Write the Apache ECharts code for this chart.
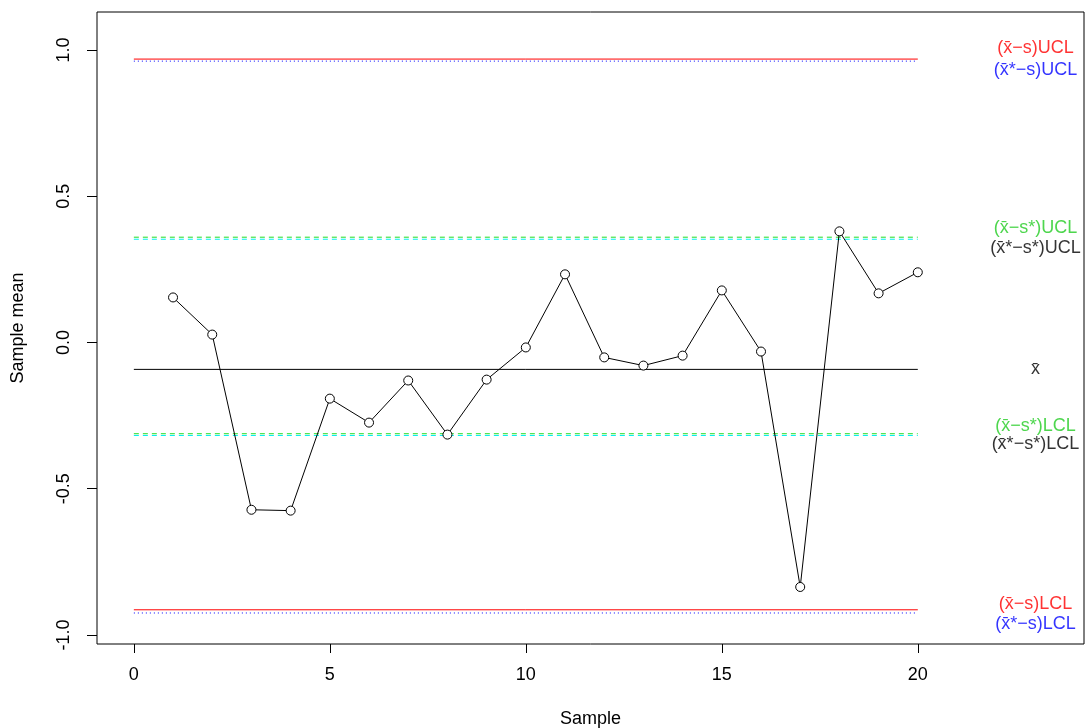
<!DOCTYPE html>
<html>
  <head>
    <meta charset="utf-8" />
    <title></title>
    <style type="text/css">
      html,
      body {
        margin: 0;
        width: 100%;
        height: 100%;
        background: #fff;
      }
      #main {
        width: 1085px;
        height: 728px;
      }
    </style>
  </head>
  <body>
    <div id="main"></div>
    <script src="https://cdn.jsdelivr.net/npm/echarts@6/dist/echarts.min.js"></script>
    <script type="text/javascript">
      // 样本均值
      var samples = [1, 2, 3, 4, 5, 6, 7, 8, 9, 10, 11, 12, 13, 14, 15, 16, 17, 18, 19, 20];
      var means = [0.154, 0.027, -0.572, -0.575, -0.192, -0.274, -0.130, -0.315, -0.127, -0.017,
        0.233, -0.051, -0.079, -0.045, 0.178, -0.031, -0.836, 0.380, 0.168, 0.240];

      // 控制限
      var centerLine = -0.092;
      var limitNames = ["(x\u0304\u2212s)UCL", "(x\u0304*\u2212s)UCL", "(x\u0304\u2212s*)UCL", "(x\u0304*\u2212s*)UCL",
        "(x\u0304\u2212s*)LCL", "(x\u0304*\u2212s*)LCL", "(x\u0304\u2212s)LCL", "(x\u0304*\u2212s)LCL"];
      var limitValues = [0.969, 0.962, 0.360, 0.353, -0.312, -0.318, -0.914, -0.925];

      var xTicks = [0, 5, 10, 15, 20];
      var yTicks = [-1.0, -0.5, 0.0, 0.5, 1.0];

      var font = "Liberation Sans";
      var colors = ["#ff0000", "#0000ff", "#22dd22", "#00f0f0", "#22dd22", "#00f0f0", "#ff0000", "#0000ff"];
      var labelColors = ["#ff0000", "#0000ff", "#22cc22", "#000000", "#22cc22", "#000000", "#ff0000", "#0000ff"];
      var types = ["solid", [1, 3], [5, 4], [5, 4], [5, 4], [5, 4], "solid", [1, 3]];
      var offsets = [-11, 9, -9, 9, -8, 9, -6, 11];

      var series = [];
      limitValues.forEach(function (v, i) {
        series.push({
          type: "line",
          data: [[0, v], [20, v]],
          symbol: "none",
          silent: true,
          animation: false,
          lineStyle: { color: colors[i], width: 1, type: types[i] },
          z: 2,
        });
      });
      series.push({
        type: "line",
        data: [[0, centerLine], [20, centerLine]],
        symbol: "none",
        animation: false,
        lineStyle: { color: "#000", width: 1 },
        z: 2,
      });
      series.push({
        type: "line",
        data: samples.map(function (s, i) { return [s, means[i]]; }),
        symbol: "circle",
        symbolSize: 9,
        animation: false,
        itemStyle: { color: "#fff", borderColor: "#000", borderWidth: 1 },
        lineStyle: { color: "#000", width: 1 },
        z: 3,
      });
      // 右侧标签
      var labelData = limitValues.map(function (v, i) {
        return {
          value: [23, v],
          name: limitNames[i],
          label: { color: labelColors[i], offset: [0, offsets[i]] },
        };
      });
      labelData.push({ value: [23, centerLine], name: "x\u0304", label: { color: "#000", offset: [0, 0] } });
      series.push({
        type: "scatter",
        data: labelData,
        symbolSize: 0,
        animation: false,
        label: {
          show: true,
          position: "inside",
          formatter: "{b}",
          fontFamily: font,
          fontSize: 18,
        },
        z: 4,
      });

      var chart = echarts.init(document.getElementById("main"));
      chart.setOption({
        backgroundColor: "#fff",
        animation: false,
        grid: {
          left: 97,
          right: 1,
          top: 12,
          bottom: 84,
          outerBoundsMode: "none",
          containLabel: false,
          show: true,
          borderColor: "#000",
          borderWidth: 1,
          backgroundColor: "transparent",
        },
        xAxis: {
          type: "value",
          min: -0.94,
          max: 24.24,
          name: "Sample",
          nameLocation: "middle",
          nameGap: 66,
          nameTextStyle: { fontFamily: font, fontSize: 18, color: "#000" },
          axisLine: { show: false, onZero: false },
          splitLine: { show: false },
          axisTick: { show: true, length: 9, customValues: xTicks, lineStyle: { color: "#000" } },
          axisLabel: { customValues: xTicks, margin: 22, fontFamily: font, fontSize: 18, color: "#000" },
        },
        yAxis: {
          type: "value",
          min: -1.031,
          max: 1.13,
          name: "Sample mean",
          nameLocation: "middle",
          nameGap: 70,
          nameTextStyle: { fontFamily: font, fontSize: 18, color: "#000" },
          axisLine: { show: false, onZero: false },
          splitLine: { show: false },
          axisTick: { show: true, length: 10, customValues: yTicks, lineStyle: { color: "#000" } },
          axisLabel: {
            customValues: yTicks,
            rotate: 90,
            margin: 24,
            fontFamily: font,
            fontSize: 18,
            color: "#000",
            formatter: function (v) { return v.toFixed(1); },
          },
        },
        series: series,
      });
    </script>
  </body>
</html>
